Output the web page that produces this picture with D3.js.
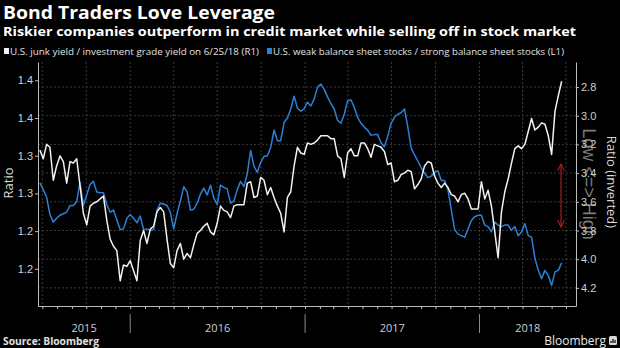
<!DOCTYPE html>
<html>
<head>
<meta charset="utf-8">
<title>Bond Traders Love Leverage</title>
<style>
  body { margin: 0; background: #000; }
  svg { display: block; background: #000; font-family: "Open Sans", "Noto Sans", sans-serif; }
  .grid line { stroke: #3a3a3a; stroke-width: 1px; stroke-dasharray: 2,2; }
  .axis path, .axis line { stroke: #bdbdbd; stroke-width: 1px; }
  .axis text { fill: #cfcfcf; font-size: 11px; }
  .series { fill: none; stroke-width: 1.5px; stroke-linejoin: round; }
</style>
</head>
<body>
<svg id="chart"></svg>

<script src="https://cdn.jsdelivr.net/npm/d3@7"></script>
<script>
  // weekly readings, first week ending 2015-06-26
  var startDate = "2015-06-26";

  // U.S. junk yield / investment grade yield (R1, inverted axis)
  var junkRatio = [
    3.24, 3.30, 3.20, 3.22, 3.45, 3.35, 3.28, 3.32, 3.47, 3.32,
    3.33, 3.30, 3.49, 3.68, 3.76, 3.63, 3.61, 3.60, 3.58, 3.56,
    3.73, 3.86, 3.91, 3.94, 4.15, 4.04, 4.05, 4.01, 4.08, 4.15,
    3.87, 3.80, 3.89, 3.79, 3.77, 3.67, 3.64, 3.67, 3.86, 4.03,
    4.06, 3.94, 3.89, 4.00, 3.96, 3.99, 3.90, 3.82, 3.80, 3.77,
    3.75, 3.81, 3.83, 3.75, 3.63, 3.66, 3.67, 3.71, 3.63, 3.62,
    3.62, 3.62, 3.47, 3.46, 3.57, 3.56, 3.43, 3.45, 3.55, 3.50,
    3.57, 3.63, 3.68, 3.81, 3.57, 3.53, 3.35, 3.22,
    3.26, 3.27, 3.19, 3.20, 3.19, 3.17, 3.14, 3.14, 3.14, 3.16,
    3.16, 3.28, 3.30, 3.43, 3.26, 3.23, 3.28, 3.28, 3.19, 3.19,
    3.23, 3.29, 3.20, 3.21, 3.22, 3.25, 3.34, 3.33, 3.46, 3.45,
    3.41, 3.40, 3.38, 3.39, 3.51, 3.48, 3.44, 3.35, 3.32,
    3.33, 3.42, 3.47, 3.50, 3.47, 3.50, 3.55, 3.56, 3.60, 3.55,
    3.54, 3.58, 3.65, 3.65, 3.65, 3.46, 3.58, 3.52, 3.63, 3.81,
    3.99, 3.67, 3.53, 3.44, 3.33, 3.23, 3.21, 3.23, 3.20, 3.11,
    3.02, 3.10, 3.08, 3.05, 3.06, 3.14, 3.27, 2.97, 2.86, 2.76
  ];

  // U.S. weak balance sheet stocks / strong balance sheet stocks (L1)
  var stockRatio = [
    1.264, 1.255, 1.245, 1.222, 1.212, 1.217, 1.221, 1.223, 1.225, 1.234,
    1.234, 1.239, 1.265, 1.234, 1.248, 1.262, 1.266, 1.252, 1.251, 1.251,
    1.235, 1.225, 1.228, 1.215, 1.202, 1.203, 1.217, 1.222, 1.217, 1.211,
    1.220, 1.202, 1.203, 1.201, 1.202, 1.228, 1.237, 1.236, 1.234, 1.225,
    1.203, 1.223, 1.240, 1.259, 1.252, 1.228, 1.229, 1.237, 1.249, 1.257,
    1.248, 1.261, 1.244, 1.235, 1.261, 1.258, 1.256, 1.237, 1.240, 1.255,
    1.266, 1.259, 1.276, 1.307, 1.286, 1.278, 1.291, 1.299, 1.300, 1.311,
    1.334, 1.320, 1.320, 1.344, 1.350, 1.362, 1.379, 1.363,
    1.359, 1.362, 1.371, 1.366, 1.375, 1.391, 1.395, 1.388, 1.378, 1.369,
    1.362, 1.347, 1.343, 1.355, 1.373, 1.374, 1.364, 1.351, 1.343, 1.338,
    1.334, 1.327, 1.328, 1.328, 1.317, 1.312, 1.326, 1.343, 1.351, 1.355,
    1.357, 1.362, 1.338, 1.310, 1.301, 1.293, 1.284, 1.277, 1.271,
    1.273, 1.278, 1.280, 1.267, 1.267, 1.255, 1.228, 1.202, 1.196, 1.194,
    1.192, 1.203, 1.214, 1.219, 1.221, 1.221, 1.208, 1.206, 1.199, 1.212,
    1.208, 1.206, 1.208, 1.208, 1.201, 1.206, 1.194, 1.199, 1.210, 1.194,
    1.192, 1.164, 1.148, 1.137, 1.148, 1.141, 1.128, 1.146, 1.148, 1.158
  ];

  var leftTicks = [1.40, 1.35, 1.30, 1.25, 1.20, 1.15];
  var leftTickLabels = ["1.4", "1.4", "1.3", "1.3", "1.2", "1.2"];
  var rightTicks = [2.8, 3.0, 3.2, 3.4, 3.6, 3.8, 4.0, 4.2];
  var years = ["2015", "2016", "2017", "2018"];

  var width = 620, height = 348;
  var plot = { left: 38, right: 576, top: 62, bottom: 306 };

  var svg = d3.select("#chart")
    .attr("width", width)
    .attr("height", height);

  var parse = d3.timeParse("%Y-%m-%d");
  var t0 = parse(startDate);
  var dates = junkRatio.map(function(d, i) { return d3.timeWeek.offset(t0, i); });

  var x = d3.scaleTime()
    .domain([parse("2015-06-22"), parse("2018-07-22")])
    .range([plot.left, plot.right]);
  var yL = d3.scaleLinear().domain([1.1007, 1.4243]).range([plot.bottom, plot.top]);
  var yR = d3.scaleLinear().domain([2.626, 4.326]).range([plot.top, plot.bottom]);

  // grid
  var grid = svg.append("g").attr("class", "grid");
  grid.selectAll(".h").data(rightTicks).enter().append("line")
    .attr("x1", plot.left).attr("x2", plot.right)
    .attr("y1", function(d) { return yR(d); })
    .attr("y2", function(d) { return yR(d); });
  grid.selectAll(".v").data(d3.timeMonth.every(3).range(x.domain()[0], x.domain()[1])).enter().append("line")
    .attr("y1", plot.top).attr("y2", plot.bottom)
    .attr("x1", function(d) { return x(d); })
    .attr("x2", function(d) { return x(d); });

  // "Low <=> High" watermark behind axis labels
  svg.append("text")
    .attr("transform", "translate(583," + 184 + ") rotate(90)")
    .attr("text-anchor", "middle")
    .attr("fill", "#7a7a7a")
    .attr("font-size", 18)
    .attr("font-family", "Liberation Sans, Arial, sans-serif")
    .text("Low <=> High");

  // axes
  svg.append("g").attr("class", "axis")
    .attr("transform", "translate(" + plot.left + ",0)")
    .call(d3.axisLeft(yL).tickValues(leftTicks)
      .tickFormat(function(d, i) { return leftTickLabels[i]; })
      .tickSize(3).tickSizeOuter(0).tickPadding(2));

  svg.append("g").attr("class", "axis")
    .attr("transform", "translate(" + plot.right + ",0)")
    .call(d3.axisRight(yR).tickValues(rightTicks)
      .tickFormat(d3.format(".1f"))
      .tickSize(3).tickSizeOuter(0).tickPadding(2));

  svg.append("g").attr("class", "axis")
    .attr("transform", "translate(0," + plot.bottom + ")")
    .call(d3.axisBottom(x).ticks(d3.timeMonth.every(1))
      .tickFormat("").tickSize(3).tickSizeOuter(0));

  // year separators and labels
  var yearStarts = years.map(function(y) { return parse(y + "-01-01"); });
  svg.selectAll(".ysep").data(yearStarts.slice(1)).enter().append("line")
    .attr("x1", function(d) { return x(d); }).attr("x2", function(d) { return x(d); })
    .attr("y1", 314).attr("y2", 333)
    .attr("stroke", "#8a8a8a");
  svg.selectAll(".ylab").data(years).enter().append("text")
    .attr("x", function(d, i) {
      var a = Math.max(x(yearStarts[i]), plot.left);
      var b = i < years.length - 1 ? x(yearStarts[i + 1]) : plot.right;
      return (a + b) / 2;
    })
    .attr("y", 332)
    .attr("text-anchor", "middle")
    .attr("fill", "#cfcfcf")
    .attr("font-size", 11)
    .text(function(d) { return d; });

  // series
  var lineL = d3.line()
    .x(function(d, i) { return x(dates[i]); })
    .y(function(d) { return yL(d); });
  var lineR = d3.line()
    .x(function(d, i) { return x(dates[i]); })
    .y(function(d) { return yR(d); });

  svg.append("path").datum(stockRatio)
    .attr("class", "series").attr("stroke", "#2d80d8").attr("d", lineL);
  svg.append("path").datum(junkRatio)
    .attr("class", "series").attr("stroke", "#f2f2f2").attr("d", lineR);

  // red double arrow
  var defs = svg.append("defs");
  defs.append("marker").attr("id", "ah")
    .attr("viewBox", "0 0 10 10").attr("refX", 9).attr("refY", 5)
    .attr("markerWidth", 7).attr("markerHeight", 7)
    .attr("orient", "auto-start-reverse")
    .append("path").attr("d", "M1,1 L9,5 L1,9")
    .attr("fill", "none").attr("stroke", "#a3201c").attr("stroke-width", 1.4);
  svg.append("line")
    .attr("x1", 561).attr("x2", 561).attr("y1", 164).attr("y2", 227)
    .attr("stroke", "#a3201c").attr("stroke-width", 1.2)
    .attr("marker-start", "url(#ah)").attr("marker-end", "url(#ah)");

  // axis titles
  svg.append("text")
    .attr("transform", "translate(13,183) rotate(-90)")
    .attr("text-anchor", "middle").attr("fill", "#d8d8d8").attr("font-size", 13)
    .text("Ratio");
  svg.append("text")
    .attr("transform", "translate(607,182) rotate(90)")
    .attr("text-anchor", "middle").attr("fill", "#d8d8d8").attr("font-size", 13)
    .text("Ratio (inverted)");

  // titles
  svg.append("text").attr("x", 3).attr("y", 19)
    .attr("fill", "#fff").attr("font-weight", "bold").attr("font-size", 17)
    .attr("textLength", 272).attr("lengthAdjust", "spacingAndGlyphs")
    .text("Bond Traders Love Leverage");
  svg.append("text").attr("x", 3).attr("y", 36)
    .attr("fill", "#fff").attr("font-weight", "bold").attr("font-size", 12.5)
    .attr("textLength", 573).attr("lengthAdjust", "spacingAndGlyphs")
    .text("Riskier companies outperform in credit market while selling off in stock market");

  // legend
  var legend = [
    { label: "U.S. junk yield / investment grade yield on 6/25/18 (R1)", color: "#f2f2f2", x: 4, w: 249 },
    { label: "U.S. weak balance sheet stocks / strong balance sheet stocks (L1)", color: "#2d80d8", x: 267, w: 291 }
  ];
  var lg = svg.selectAll(".lg").data(legend).enter().append("g");
  lg.append("rect")
    .attr("x", function(d) { return d.x; }).attr("y", 48)
    .attr("width", 5).attr("height", 6)
    .attr("fill", function(d) { return d.color; });
  lg.append("text")
    .attr("x", function(d) { return d.x + 6; }).attr("y", 55)
    .attr("fill", "#e0e0e0").attr("font-size", 9.5)
    .attr("textLength", function(d) { return d.w; }).attr("lengthAdjust", "spacingAndGlyphs")
    .text(function(d) { return d.label; });

  // footer
  svg.append("text").attr("x", 3).attr("y", 345)
    .attr("fill", "#e0e0e0").attr("font-weight", "bold").attr("font-size", 10)
    .attr("textLength", 96).attr("lengthAdjust", "spacingAndGlyphs")
    .text("Source: Bloomberg");
  svg.append("text").attr("x", 606).attr("y", 345)
    .attr("text-anchor", "end")
    .attr("fill", "#e8e8e8").attr("font-size", 12)
    .text("Bloomberg");
  svg.append("rect").attr("x", 609).attr("y", 336).attr("width", 8).attr("height", 9)
    .attr("rx", 1.5).attr("fill", "#d8d8d8");
  svg.append("path").attr("d", "M611,343 v-2 M613,343 v-4 M615,343 v-3")
    .attr("stroke", "#000").attr("stroke-width", 1.2);
</script>
</body>
</html>
